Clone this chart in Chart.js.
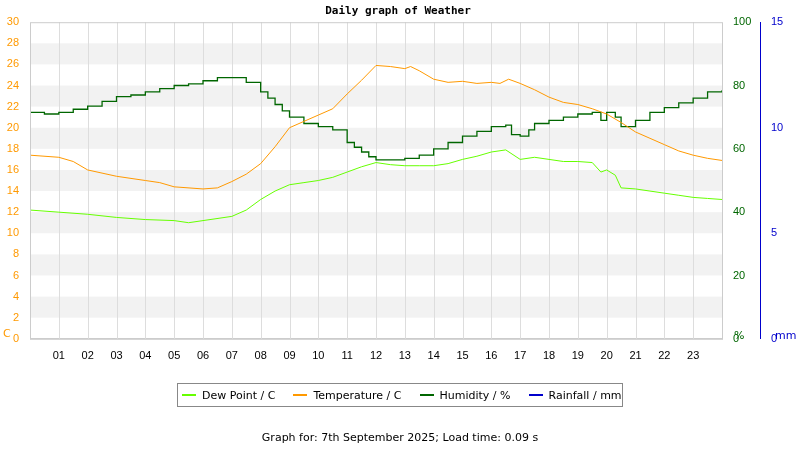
<!DOCTYPE html>
<html><head><meta charset="utf-8">
<script src="https://cdn.jsdelivr.net/npm/chart.js@4"></script>
<style>
body{margin:0;background:#fff;font-family:"DejaVu Sans",sans-serif;}
#wrap{position:relative;width:800px;height:450px;}
#legend{position:absolute;left:177px;top:383px;width:446px;height:24px;border:1px solid #888;font-size:11px;display:flex;align-items:center;white-space:nowrap;box-sizing:border-box;}
#legend span.it{display:flex;align-items:center;margin-left:4px;margin-right:14px;white-space:nowrap;}
#legend i{display:inline-block;width:14px;height:2px;margin-right:6px;}
#foot{position:absolute;left:0;width:800px;top:431px;text-align:center;font-size:11px;}
</style></head><body>
<div id="wrap"><canvas id="c" width="800" height="450"></canvas>
<div id="legend">
<span class="it"><i style="background:#66ff00"></i>Dew Point / C</span>
<span class="it"><i style="background:#ff9900"></i>Temperature / C</span>
<span class="it"><i style="background:#006600"></i>Humidity / %</span>
<span class="it"><i style="background:#0000cc"></i>Rainfall / mm</span>
</div>
<div id="foot">Graph for: 7th September 2025; Load time: 0.09 s</div>
</div>
<script>
const tempHours=[0,1,1.5,2,3,4,4.5,5,6,6.5,7,7.5,8,8.5,9,9.5,10,10.5,11,11.5,12,12.5,13,13.2,13.5,14,14.5,15,15.5,16,16.3,16.6,17,17.5,18,18.5,19,19.5,20,20.5,21,21.5,22,22.5,23,23.5,24];
const tempVals=[17.4,17.2,16.8,16.0,15.4,15.0,14.8,14.4,14.2,14.3,14.9,15.6,16.6,18.2,20.0,20.6,21.2,21.8,23.2,24.5,25.9,25.8,25.6,25.8,25.4,24.6,24.3,24.4,24.2,24.3,24.2,24.6,24.2,23.6,22.9,22.4,22.2,21.8,21.3,20.5,19.6,19.0,18.4,17.8,17.4,17.1,16.9];
const dewHours=[0,1,2,3,4,5,5.5,6,7,7.5,8,8.5,9,9.5,10,10.5,11,11.5,12,12.5,13,13.5,14,14.5,15,15.5,16,16.5,17,17.5,18,18.5,19,19.5,19.8,20,20.3,20.5,21,21.5,22,22.5,23,23.5,24];
const dewVals=[12.2,12.0,11.8,11.5,11.3,11.2,11.0,11.2,11.6,12.2,13.2,14.0,14.6,14.8,15.0,15.3,15.8,16.3,16.7,16.5,16.4,16.4,16.4,16.6,17.0,17.3,17.7,17.9,17.0,17.2,17.0,16.8,16.8,16.7,15.8,16.0,15.5,14.3,14.2,14.0,13.8,13.6,13.4,13.3,13.2];
const humHours=[0,0.5,1,1.5,2,2.5,3,3.5,4,4.5,5,5.5,6,6.5,7,7.5,8,8.25,8.5,8.75,9,9.5,10,10.5,11,11.25,11.5,11.75,12,12.5,13,13.5,14,14.5,15,15.5,16,16.5,16.7,17,17.3,17.5,18,18.5,19,19.5,19.8,20,20.3,20.5,21,21.5,22,22.5,23,23.5,24];
const humVals=[71.5,71,71.5,72.5,73.5,75,76.5,77,78,79,80,80.5,81.5,82.5,82.5,81,78,76,74,72,70,68,67,66,62,60.5,59,57.5,56.5,56.5,57,58,60,62,64,65.5,67,67.5,64.5,64,66,68,69,70,71,71.5,69,71.5,70,67,69,71.5,73,74.5,76,78,78.5];
const rainHours=[];
const rainVals=[];
const hourLabels=['01','02','03','04','05','06','07','08','09','10','11','12','13','14','15','16','17','18','19','20','21','22','23'];
const xy=(h,v)=>h.map((x,i)=>({x:x,y:v[i]}));
const bands={id:'bands',beforeDatasetsDraw(ch){const {ctx,chartArea:a,scales:{y}}=ch;ctx.save();ctx.fillStyle='#f2f2f2';
 for(let v=2;v<30;v+=4){const t=y.getPixelForValue(v+2),b=y.getPixelForValue(v);ctx.fillRect(a.left,t,a.right-a.left,b-t);}
 ctx.strokeStyle='#ddd';ctx.lineWidth=1;for(let h=1;h<24;h++){const x=Math.round(ch.scales.x.getPixelForValue(h))+0.5;ctx.beginPath();ctx.moveTo(x,a.top);ctx.lineTo(x,a.bottom);ctx.stroke();}
 ctx.restore();},
 afterDraw(ch){const {ctx,chartArea:a}=ch;ctx.save();ctx.font='11px "DejaVu Sans"';ctx.fillStyle='#ff9900';ctx.fillText('C',3,337);ctx.fillStyle='#006600';ctx.fillText('%',734,339);ctx.fillStyle='#0000cc';ctx.fillText('mm',775,339);
 ctx.strokeStyle='#ccc';ctx.strokeRect(a.left+0.5,a.top+0.5,a.right-a.left,a.bottom-a.top);ctx.restore();}};
new Chart(document.getElementById('c'),{type:'line',
data:{datasets:[
{label:'Dew Point / C',data:xy(dewHours,dewVals),borderColor:'#66ff00',borderWidth:1,pointRadius:0,yAxisID:'y'},
{label:'Temperature / C',data:xy(tempHours,tempVals),borderColor:'#ff9900',borderWidth:1,pointRadius:0,yAxisID:'y'},
{label:'Humidity / %',data:xy(humHours,humVals),borderColor:'#006600',borderWidth:1.3,pointRadius:0,stepped:true,yAxisID:'y1'},
{label:'Rainfall / mm',data:xy(rainHours,rainVals),borderColor:'#0000cc',borderWidth:1,pointRadius:0,yAxisID:'y2'}]},
options:{responsive:false,animation:false,layout:{padding:{left:2,right:6,top:0,bottom:84}},
plugins:{legend:{display:false},tooltip:{enabled:false},title:{display:true,text:'Daily graph of Weather',font:{family:'DejaVu Sans Mono',size:11,weight:'bold'},color:'#000',padding:{top:5,bottom:4}}},
scales:{
x:{type:'linear',min:0,max:24,grid:{display:false},border:{color:'#ccc'},ticks:{stepSize:1,autoSkip:false,maxRotation:0,color:'#000',font:{size:11},callback:v=>(v>=1&&v<=23)?hourLabels[v-1]:''}},
y:{position:'left',min:0,max:30,grid:{display:false},border:{display:false},ticks:{stepSize:2,color:'#ff9900',font:{size:11}},afterFit(s){s.width=28;}},
y1:{position:'right',min:0,max:100,grid:{display:false},border:{display:false},ticks:{stepSize:20,color:'#006600',font:{size:11}},afterFit(s){s.width=38;}},
y2:{position:'right',min:0,max:15,grid:{display:false,drawTicks:true},border:{color:'#0000cc'},ticks:{stepSize:5,color:'#0000cc',font:{size:11}},afterFit(s){s.width=34;}}
}},plugins:[bands]});
</script></body></html>
